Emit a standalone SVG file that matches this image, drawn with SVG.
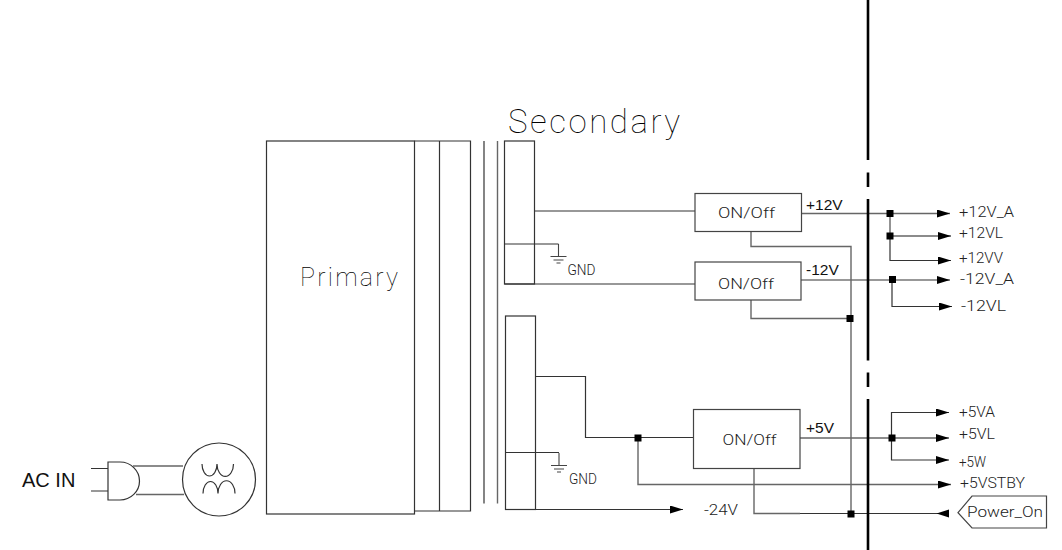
<svg xmlns="http://www.w3.org/2000/svg" width="1062" height="550" viewBox="0 0 1062 550">
<style>
.w{fill:none;stroke:#333;stroke-width:1.2}
.g{fill:none;stroke:#666;stroke-width:1.4}
.b{fill:#fff;stroke:#444;stroke-width:1.2}
.bar{fill:none;stroke:#000;stroke-width:2.6}
.c{font-family:"Roboto","Liberation Sans",sans-serif;font-weight:300;font-size:15px;fill:#222}
.t{font-weight:100;fill:#000}
.h{font-family:"Liberation Sans",Arial,sans-serif;font-size:15.500px;fill:#111}
</style>
<defs>
<marker id="a" markerUnits="userSpaceOnUse" markerWidth="14" markerHeight="8" refX="13" refY="4" orient="auto"><path d="M0,0L13,4L0,8z" fill="#000"/></marker>
<rect id="dot" x="-3.500" y="-3.500" width="7" height="7" fill="#000"/>
<path id="gnd" d="M0,0V12.500M-8,12.500H8M-5,16H5M-2,19H2" fill="none" stroke="#444" stroke-width="1.1"/>
</defs>
<g id="ac-in">
<text x="22" y="486.500" style="font-family:'Liberation Sans',Arial,sans-serif;font-size:20px" fill="#111">AC IN</text>
<path class="w" d="M91,468.500H108M91,491H108M108,462H120A19.500,19 0 0 1 120,500H108Z"/>
<path class="g" d="M133,466H183M136,494.500H184"/>
<circle class="w" cx="219" cy="479.500" r="36.500"/>
<path class="w" d="M202,464A7.500,12 0 0 0 217,464A8,12 0 0 0 233.500,464M203,493.500A7.500,12 0 0 1 218,493.500A8,12 0 0 1 235,493.500"/>
</g>
<g id="primary">
<rect class="w" x="266.500" y="141" width="148" height="373"/>
<path class="w" d="M414.500,141H470.500V511H414.500M439.500,141V511"/>
<text class="c t" x="300" y="285.500" style="font-size:25px" textLength="98" lengthAdjust="spacing">Primary</text>
</g>
<g id="core"><path class="w" d="M484,141V503.500"/><path class="g" d="M497.500,141V503.500"/></g>
<g id="secondary">
<text class="c t" x="508" y="133" style="font-size:33px" textLength="172" lengthAdjust="spacing">Secondary</text>
<rect class="w" x="504.500" y="141" width="30" height="143"/>
<rect class="w" x="505.500" y="316" width="30" height="193.500"/>
<use href="#gnd" x="558.500" y="244"/>
<use href="#gnd" x="559" y="453"/>
<text class="c" x="567.500" y="274.500" textLength="28" lengthAdjust="spacingAndGlyphs">GND</text>
<text class="c" x="569" y="484" textLength="28" lengthAdjust="spacingAndGlyphs">GND</text>
</g>
<g id="connectors">
<path class="w" d="M534.500,211H695M504.500,244H558.500M504.500,284H695"/>
<path class="w" d="M535.500,376.500H585.500V437.500H693.500M505.500,452.500H559"/>
<path class="g" d="M638,438V484.500H951" marker-end="url(#a)"/>
<path class="w" d="M505.500,509.500H683" marker-end="url(#a)"/>
<path class="g" d="M801.500,213.500H950" marker-end="url(#a)"/>
<path class="g" d="M890,213.500V236H951" marker-end="url(#a)"/>
<path class="w" d="M890,236V260.500H951" marker-end="url(#a)"/>
<path class="w" d="M801,280H950" marker-end="url(#a)"/>
<path class="w" d="M892,280V306.500H952" marker-end="url(#a)"/>
<path class="g" d="M751,231.500V246.500H851V513"/>
<path class="g" d="M751,300V318.500H851"/>
<path class="g" d="M800,438H949" marker-end="url(#a)"/>
<path class="w" d="M891.500,438V412.500H949" marker-end="url(#a)"/>
<path class="w" d="M891.500,438V460H949" marker-end="url(#a)"/>
<path class="g" d="M754,468.500V513.500H800"/>
<path class="w" d="M800,513.500H949"/>
<path d="M949,509.500V517.500L936.500,513.500Z" fill="#000"/>
<path class="bar" d="M868,0V160M868,172.500V187M868,199V360.500M868,372.500V387M868,399V550"/>
<use href="#dot" x="890" y="213.500"/>
<use href="#dot" x="890" y="236"/>
<use href="#dot" x="892.500" y="279.500"/>
<use href="#dot" x="850" y="318.500"/>
<use href="#dot" x="638" y="438"/>
<use href="#dot" x="892" y="438"/>
<use href="#dot" x="851" y="514"/>
</g>
<g id="sw1"><rect class="b" x="695" y="193.500" width="106.500" height="38"/><text class="c" x="718" y="218" textLength="57" lengthAdjust="spacingAndGlyphs">ON/Off</text><text class="h" x="806" y="210">+12V</text></g>
<g id="sw2"><rect class="b" x="695" y="262" width="106" height="38"/><text class="c" x="718" y="289" textLength="56" lengthAdjust="spacingAndGlyphs">ON/Off</text><text class="h" x="806" y="275">-12V</text></g>
<g id="sw3"><rect class="b" x="693.500" y="409.500" width="106.500" height="59"/><text class="c" x="722.500" y="445" textLength="54" lengthAdjust="spacingAndGlyphs">ON/Off</text><text class="h" x="806" y="433">+5V</text></g>
<g id="outputs">
<text class="c" x="959" y="217" textLength="55" lengthAdjust="spacingAndGlyphs">+12V_A</text>
<text class="c" x="959" y="238" textLength="44" lengthAdjust="spacingAndGlyphs">+12VL</text>
<text class="c" x="959" y="263" textLength="44" lengthAdjust="spacingAndGlyphs">+12VV</text>
<text class="c" x="960" y="284" textLength="54" lengthAdjust="spacingAndGlyphs">-12V_A</text>
<text class="c" x="961" y="311" textLength="45" lengthAdjust="spacingAndGlyphs">-12VL</text>
<text class="c" x="959" y="417" textLength="36" lengthAdjust="spacingAndGlyphs">+5VA</text>
<text class="c" x="959" y="439" textLength="36" lengthAdjust="spacingAndGlyphs">+5VL</text>
<text class="c" x="959" y="467" textLength="27" lengthAdjust="spacingAndGlyphs">+5W</text>
<text class="c" x="960" y="488" textLength="65" lengthAdjust="spacingAndGlyphs">+5VSTBY</text>
<text class="c" x="704" y="515" textLength="34" lengthAdjust="spacingAndGlyphs">-24V</text>
</g>
<g id="power-on">
<path class="b" d="M958,512.700L972,496H1046.500V528H972Z"/>
<text class="c" x="967" y="517" textLength="76" lengthAdjust="spacingAndGlyphs">Power_On</text>
</g>
</svg>
